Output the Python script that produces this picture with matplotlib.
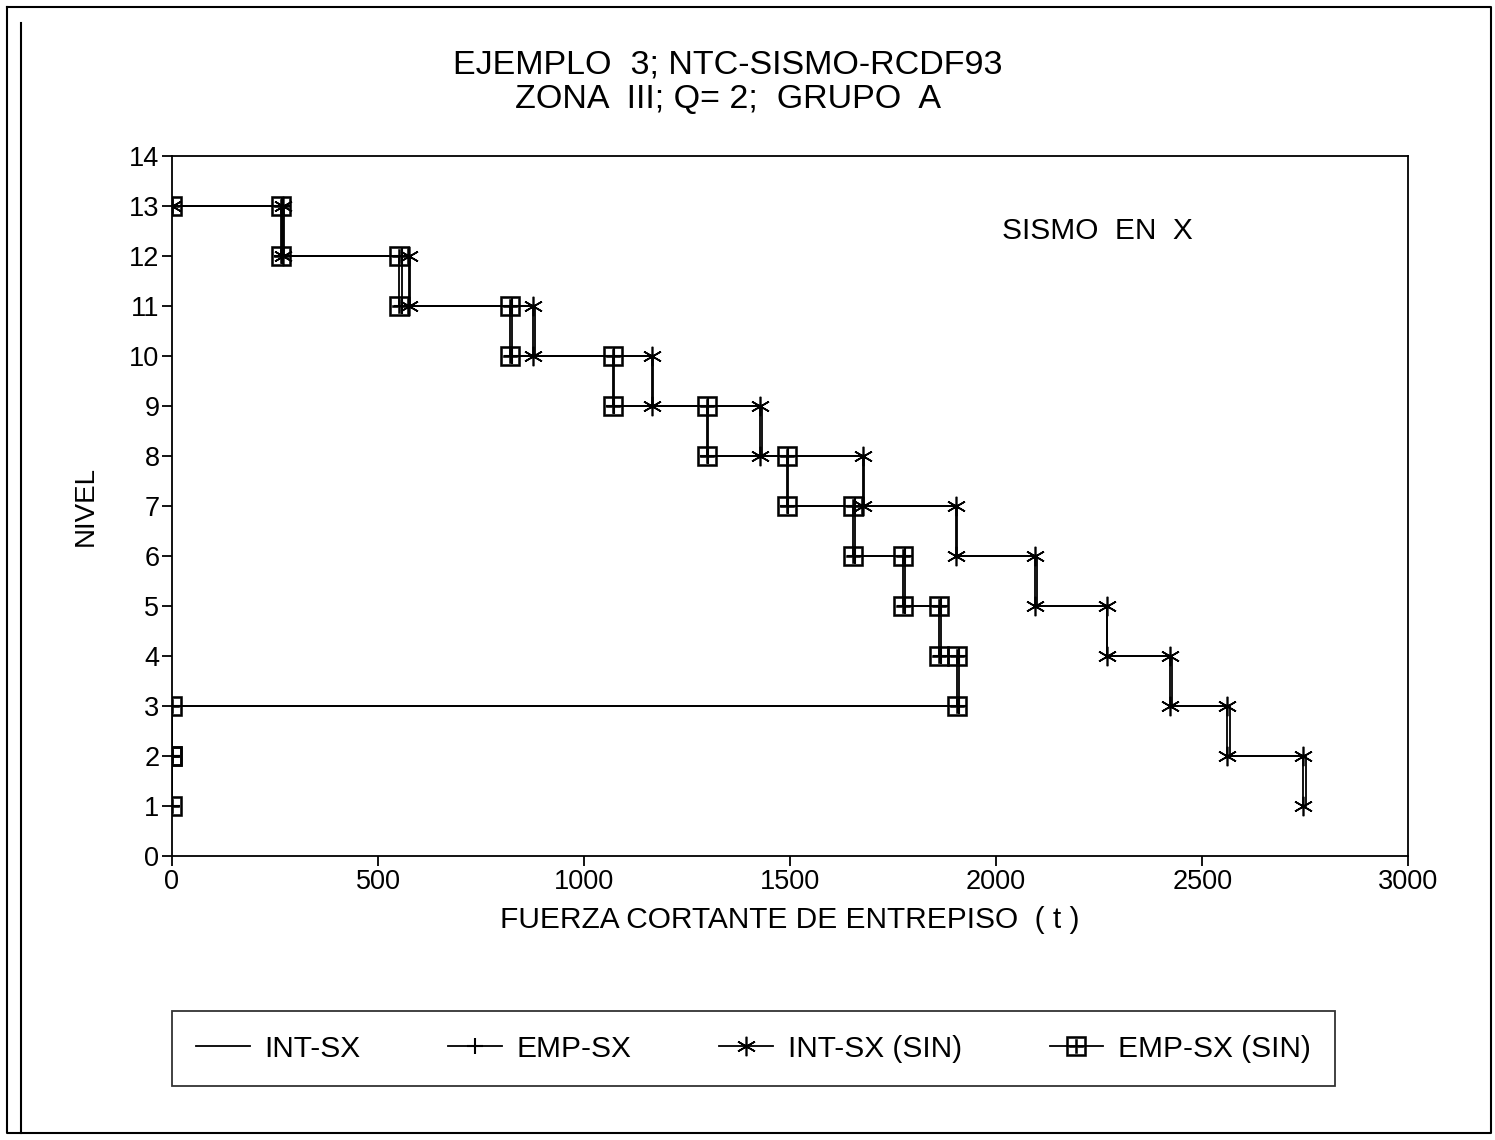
import matplotlib
matplotlib.use("Agg")
import matplotlib.pyplot as plt
from matplotlib.lines import Line2D
import numpy as np

plt.rcParams['font.family'] = ['Liberation Sans', 'DejaVu Sans']

# niveles (de arriba hacia abajo) y cortante de entrepiso (t)
niveles = [13, 12, 11, 10, 9, 8, 7, 6, 5, 4, 3, 2]
int_sx_sin = [270, 575, 876, 1165, 1428, 1677, 1903, 2095, 2268, 2423, 2560, 2745]
int_sx = [272, 577, 880, 1167, 1432, 1679, 1905, 2099, 2270, 2427, 2567, 2752]
emp_sx_sin = [265, 550, 820, 1071, 1298, 1492, 1653, 1775, 1862, 1905, 0, 0]
emp_sx = [268, 558, 824, 1073, 1300, 1494, 1657, 1779, 1866, 1909, 0, 0]

x_ticks = [0, 500, 1000, 1500, 2000, 2500, 3000]
y_ticks = list(range(0, 15))


def escalera(v, niv):
    # curva escalonada: (0, n0), (v0, n0), (v0, n0-1), (v1, n0-1), ...
    xs = [0]
    ys = [niv[0]]
    for val, n in zip(v, niv):
        xs += [val, val]
        ys += [n, n - 1]
    return xs, ys


fig = plt.figure(figsize=(14.95, 11.4), dpi=100)
ax = fig.add_axes([0.115, 0.249, 0.827, 0.614])

x, y = escalera(int_sx, niveles)
ax.plot(x, y, color='black', lw=1.3, label='INT-SX')
x, y = escalera(emp_sx, niveles)
ax.plot(x, y, color='black', lw=1.3, marker='+', ms=11, mew=1.5, label='EMP-SX')
x, y = escalera(int_sx_sin, niveles)
ax.plot(x, y, color='black', lw=1.3, marker=(6, 2, 0), ms=14, mew=1.2, label='INT-SX (SIN)')
x, y = escalera(emp_sx_sin, niveles)
ax.plot(x, y, color='black', lw=1.3, marker=r'$\boxplus$', ms=14.5, mew=0.4,
        label='EMP-SX (SIN)')

ax.set_xlim(0, 3000)
ax.set_ylim(0, 14)
ax.set_xticks(x_ticks)
ax.set_yticks(y_ticks)
ax.tick_params(direction='out', length=7, width=1.3, labelsize=19.5, pad=2)
for s in ax.spines.values():
    s.set_linewidth(1.3)

ax.set_xlabel('FUERZA CORTANTE DE ENTREPISO  ( t )', fontsize=21.5, labelpad=8)
ax.set_ylabel('NIVEL', fontsize=20, labelpad=22)
ax.text(2245, 12.5, 'SISMO  EN  X', fontsize=21.5, ha='center', va='center')

fig.text(0.487, 0.928, 'EJEMPLO  3; NTC-SISMO-RCDF93\nZONA  III; Q= 2;  GRUPO  A',
         fontsize=24.5, ha='center', va='center', linespacing=1.12)

leg = fig.legend(loc='lower left', bbox_to_anchor=(0.115, 0.047, 0.778, 0.066),
                 mode='expand', ncol=4, fontsize=21.5, frameon=True, fancybox=False,
                 handlelength=1.8, borderaxespad=0, handletextpad=0.5,
                 borderpad=0.8)
leg.get_frame().set_edgecolor('black')
leg.get_frame().set_linewidth(1.3)

# marco exterior de la hoja
fig.add_artist(Line2D([0.005, 0.997, 0.997, 0.005, 0.005],
                      [0.994, 0.994, 0.006, 0.006, 0.994],
                      transform=fig.transFigure, color='black', lw=1.5))
fig.add_artist(Line2D([0.014, 0.014], [0.006, 0.98],
                      transform=fig.transFigure, color='black', lw=1.5))

fig.savefig('out.png', dpi=100, facecolor='white')
